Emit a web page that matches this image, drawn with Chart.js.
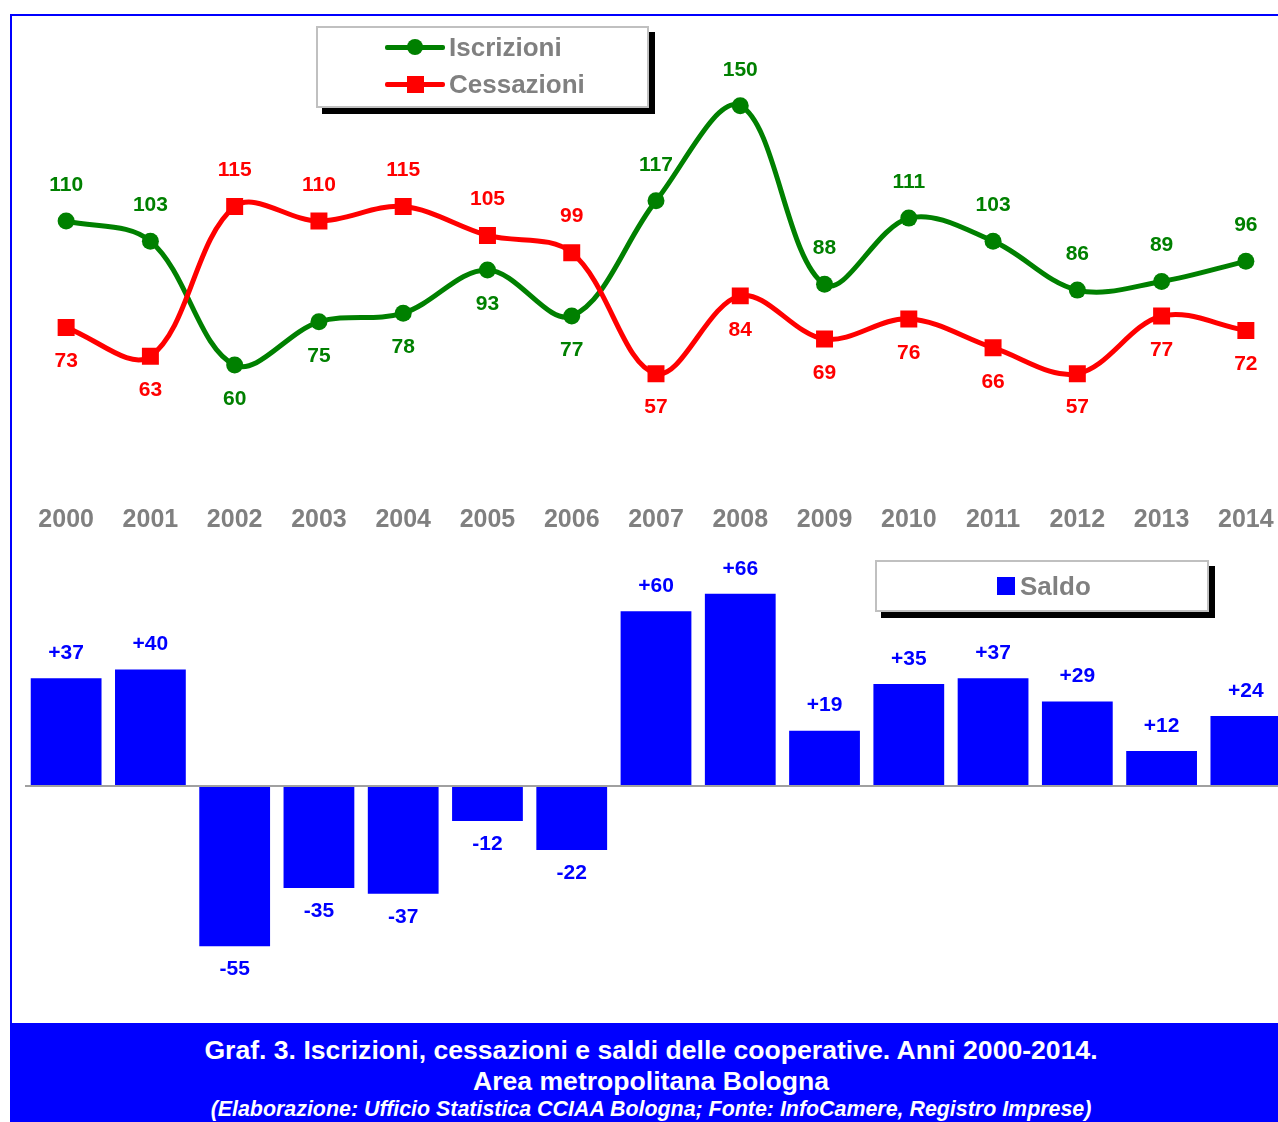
<!DOCTYPE html>
<html>
<head>
<meta charset="utf-8">
<script src="https://cdn.jsdelivr.net/npm/chart.js@4.4.1/dist/chart.umd.min.js"></script>
<style>
  html, body { margin: 0; padding: 0; background: #fff; overflow: hidden; width: 1278px; height: 1122px; }
  body { position: relative; font-family: "Liberation Sans", Arial, sans-serif; }
  #frame { position: absolute; left: 10px; top: 14px; width: 1300px; height: 1010px;
           border-left: 2px solid #0000ff; border-top: 2px solid #0000ff; }
  #lineChart { position: absolute; left: 24px; top: 0; }
  #barChart { position: absolute; left: 24px; top: 553px; }
  .legend { position: absolute; box-sizing: border-box; background: #fff;
            border: 2px solid #c0c0c0; box-shadow: 6px 6px 0 #000; }
  .row { position: absolute; left: 0; width: 100%; height: 30px; }
  .row .txt { position: absolute; top: 0; line-height: 30px; font-size: 26px; font-weight: bold; color: #808080; white-space: nowrap; }
  .row .ln { position: absolute; top: 12.5px; height: 5px; width: 60px; border-radius: 2px; }
  .row .mk { position: absolute; }
  #caption { position: absolute; left: 10px; top: 1023px; width: 1282px; height: 110px;
             background: #0000ff; color: #fff; text-align: center; font-weight: bold; padding-top: 11.5px; box-sizing: border-box; }
  #caption .c1 { font-size: 26.6px; line-height: 31px; white-space: nowrap; }
  #caption .c3 { font-size: 21.4px; line-height: 24px; font-style: italic; white-space: nowrap; }
</style>
</head>
<body>
<div id="frame"></div>
<canvas id="lineChart" width="1264" height="550"></canvas>
<canvas id="barChart" width="1264" height="466"></canvas>
<div id="legendTop" class="legend" style="left:316px;top:26px;width:333px;height:82px;"></div>
<div id="legendBottom" class="legend" style="left:875px;top:560px;width:334px;height:52px;"></div>
<div id="caption">
  <div class="c1">Graf. 3. Iscrizioni, cessazioni e saldi delle cooperative. Anni 2000-2014.</div>
  <div class="c1">Area metropolitana Bologna</div>
  <div class="c3">(Elaborazione: Ufficio Statistica CCIAA Bologna; Fonte: InfoCamere, Registro Imprese)</div>
</div>
<script>
const years = ['2000', '2001', '2002', '2003', '2004', '2005', '2006', '2007', '2008', '2009', '2010', '2011', '2012', '2013', '2014'];
const iscrizioni = [110, 103, 60, 75, 78, 93, 77, 117, 150, 88, 111, 103, 86, 89, 96];
const cessazioni = [73, 63, 115, 110, 115, 105, 99, 57, 84, 69, 76, 66, 57, 77, 72];
const saldo = [37, 40, -55, -35, -37, -12, -22, 60, 66, 19, 35, 37, 29, 12, 24];

const GREEN = '#008000';
const RED = '#ff0000';
const BLUE = '#0000ff';
const FONT = '"Liberation Sans", Arial, sans-serif';

// value labels above the higher line, below the lower one
const lineLabels = {
  id: 'lineLabels',
  afterDatasetsDraw(chart) {
    const ctx = chart.ctx;
    ctx.save();
    ctx.font = 'bold 21px ' + FONT;
    ctx.textAlign = 'center';
    ctx.textBaseline = 'middle';
    chart.data.datasets.forEach((ds, di) => {
      const other = chart.data.datasets[1 - di].data;
      chart.getDatasetMeta(di).data.forEach((pt, i) => {
        const up = ds.data[i] >= other[i];
        ctx.fillStyle = ds.borderColor;
        ctx.fillText(String(ds.data[i]), pt.x, pt.y + (up ? -36 : 34));
      });
    });
    ctx.restore();
  }
};

const lineChart = new Chart(document.getElementById('lineChart').getContext('2d'), {
  type: 'line',
  data: {
    labels: years,
    datasets: [{
      label: 'Iscrizioni',
      data: iscrizioni,
      borderColor: GREEN,
      backgroundColor: GREEN,
      borderWidth: 5,
      tension: 0.35,
      pointStyle: 'circle',
      pointRadius: 8.5,
      pointBorderWidth: 0,
      order: 1
    }, {
      label: 'Cessazioni',
      data: cessazioni,
      borderColor: RED,
      backgroundColor: RED,
      borderWidth: 5,
      tension: 0.35,
      pointStyle: 'rect',
      pointRadius: 12,
      pointBorderWidth: 0,
      order: 0
    }]
  },
  options: {
    responsive: false,
    animation: false,
    layout: { autoPadding: false, padding: { top: 19.4, bottom: 4.4, left: 0, right: 0 } },
    plugins: { legend: { display: false }, tooltip: { enabled: false } },
    scales: {
      x: {
        offset: true,
        grid: { display: false, drawTicks: false },
        border: { display: false },
        ticks: {
          color: '#808080',
          font: { family: FONT, size: 25, weight: 'bold' },
          padding: 10.5,
          maxRotation: 0,
          autoSkip: false
        },
        afterFit(scale) {
          scale.paddingLeft = 0;
          scale.paddingRight = 0;
        }
      },
      y: { display: false, min: 15, max: 180 }
    }
  },
  plugins: [lineLabels]
});

// zero line and signed labels for the bars
const barLabels = {
  id: 'barLabels',
  afterDatasetsDraw(chart) {
    const ctx = chart.ctx;
    const area = chart.chartArea;
    const y0 = chart.scales.y.getPixelForValue(0);
    ctx.save();
    ctx.strokeStyle = '#a0a0a0';
    ctx.lineWidth = 2;
    ctx.beginPath();
    ctx.moveTo(area.left + 1, y0);
    ctx.lineTo(area.right, y0);
    ctx.stroke();
    ctx.font = 'bold 21px ' + FONT;
    ctx.textAlign = 'center';
    ctx.textBaseline = 'middle';
    ctx.fillStyle = BLUE;
    const ds = chart.data.datasets[0];
    chart.getDatasetMeta(0).data.forEach((bar, i) => {
      const v = ds.data[i];
      const txt = (v > 0 ? '+' : '') + v;
      ctx.fillText(txt, bar.x, v >= 0 ? bar.y - 25 : bar.y + 23);
    });
    ctx.restore();
  }
};

const barChart = new Chart(document.getElementById('barChart').getContext('2d'), {
  type: 'bar',
  data: {
    labels: years,
    datasets: [{
      label: 'Saldo',
      data: saldo,
      backgroundColor: BLUE,
      borderWidth: 0,
      barPercentage: 0.84,
      categoryPercentage: 1
    }]
  },
  options: {
    responsive: false,
    animation: false,
    layout: { autoPadding: false, padding: 0 },
    plugins: { legend: { display: false }, tooltip: { enabled: false } },
    scales: {
      x: { display: false, offset: true },
      y: { display: false, min: -80, max: 80 }
    }
  },
  plugins: [barLabels]
});

// html legends built from the datasets
function addRow(box, top, text, sample) {
  const row = document.createElement('div');
  row.className = 'row';
  row.style.top = top + 'px';
  row.innerHTML = sample;
  const t = document.createElement('span');
  t.className = 'txt';
  t.textContent = text;
  t.style.left = (sample.indexOf('ln') >= 0 ? 131 : 143) + 'px';
  row.appendChild(t);
  box.appendChild(row);
}

const topBox = document.getElementById('legendTop');
lineChart.data.datasets.forEach((ds, i) => {
  const c = ds.borderColor;
  const mk = ds.pointStyle === 'rect'
    ? '<span class="mk" style="left:88.5px;top:6.5px;width:17px;height:17px;background:' + c + '"></span>'
    : '<span class="mk" style="left:89px;top:7px;width:16px;height:16px;border-radius:50%;background:' + c + '"></span>';
  addRow(topBox, 4 + i * 37, ds.label,
    '<span class="ln" style="left:67px;background:' + c + '"></span>' + mk);
});

const botBox = document.getElementById('legendBottom');
barChart.data.datasets.forEach((ds) => {
  addRow(botBox, 9, ds.label,
    '<span class="mk" style="left:120px;top:6px;width:18px;height:18px;background:' + ds.backgroundColor + '"></span>');
});
</script>
</body>
</html>
